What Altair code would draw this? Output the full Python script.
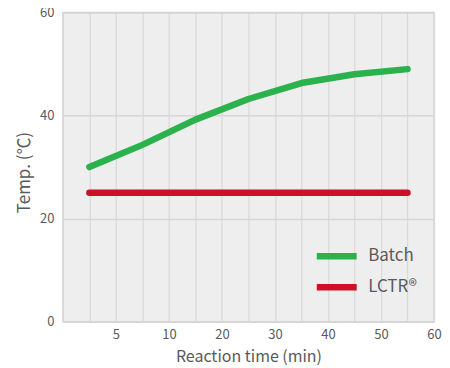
import altair as alt
import pandas as pd

# Data
time_min = [2.5, 7.5, 15, 25, 35, 45, 55]
batch_temp = [30.0, 34.3, 39.2, 43.2, 46.3, 48.0, 49.0]
lctr_temp = [25, 25, 25, 25, 25, 25, 25]
series_names = ["Batch", "LCTR®"]
series_colors = ["#2bb24c", "#cc1126"]
x_labels = [5, 10, 20, 30, 40, 50, 60]
x_grid = [0, 2.5, 5, 7.5, 10, 15, 20, 25, 30, 35, 40, 45, 50, 55, 60]
y_ticks = [0, 20, 40, 60]

rows = []
for t, v in zip(time_min, batch_temp):
    rows.append({"time": t, "temp": v, "series": series_names[0]})
for t, v in zip(time_min, lctr_temp):
    rows.append({"time": t, "temp": v, "series": series_names[1]})
df = pd.DataFrame(rows)

W, H = 372, 310
FONT = "Noto Sans CJK KR"
GREY = "#5a5a5a"

label_expr = "indexof([" + ",".join(str(v) for v in x_labels) + "], datum.value) >= 0 ? datum.label : ''"

x_enc = alt.X(
    "time:Q",
    scale=alt.Scale(domain=[0, 10, 60], range=[0, W * 4 / 14, W], nice=False, zero=False),
    axis=alt.Axis(
        title="Reaction time (min)",
        values=x_grid,
        labelExpr=label_expr,
        labelFlush=False,
        grid=True,
        gridColor="#dadada",
        gridWidth=1.3,
        domain=False,
        ticks=False,
        labelPadding=7,
        labelFontSize=13,
        labelColor=GREY,
        labelFont=FONT,
        titleFont=FONT,
        titleFontSize=16,
        titleFontWeight="normal",
        titleColor=GREY,
        titlePadding=7,
    ),
)

y_enc = alt.Y(
    "temp:Q",
    scale=alt.Scale(domain=[0, 60], nice=False),
    axis=alt.Axis(
        title="Temp. (℃)",
        values=y_ticks,
        grid=True,
        gridColor="#d6d6d6",
        gridWidth=1.5,
        domain=False,
        ticks=False,
        labelFlush=False,
        labelPadding=9,
        labelFontSize=13,
        labelColor=GREY,
        labelFont=FONT,
        titleFont=FONT,
        titleFontSize=17,
        titleFontWeight="normal",
        titleColor=GREY,
        titlePadding=6,
        titleY=160,
    ),
)

lines = alt.Chart(df).mark_line(strokeWidth=6.5, strokeCap="round", strokeJoin="round").encode(
    x=x_enc,
    y=y_enc,
    color=alt.Color(
        "series:N",
        scale=alt.Scale(domain=series_names, range=series_colors),
        sort=series_names,
        legend=alt.Legend(
            title=None,
            orient="none",
            legendX=251,
            legendY=236,
            symbolType="stroke",
            symbolStrokeWidth=6.5,
            symbolSize=1600,
            clipHeight=17,
            labelFontSize=17,
            labelFont=FONT,
            labelColor=GREY,
            labelOffset=8,
            rowPadding=13,
        ),
    ),
)

chart = lines.properties(
    width=W,
    height=H,
    autosize=alt.AutoSizeParams(type="none"),
    padding={"left": 55, "top": 4, "right": 8, "bottom": 46},
    background="white",
).configure_view(
    fill="#eeeeee",
    stroke="#d4d4d4",
    strokeWidth=1.5,
)

chart.save("out.html", embed_options={"renderer": "svg", "actions": False})
